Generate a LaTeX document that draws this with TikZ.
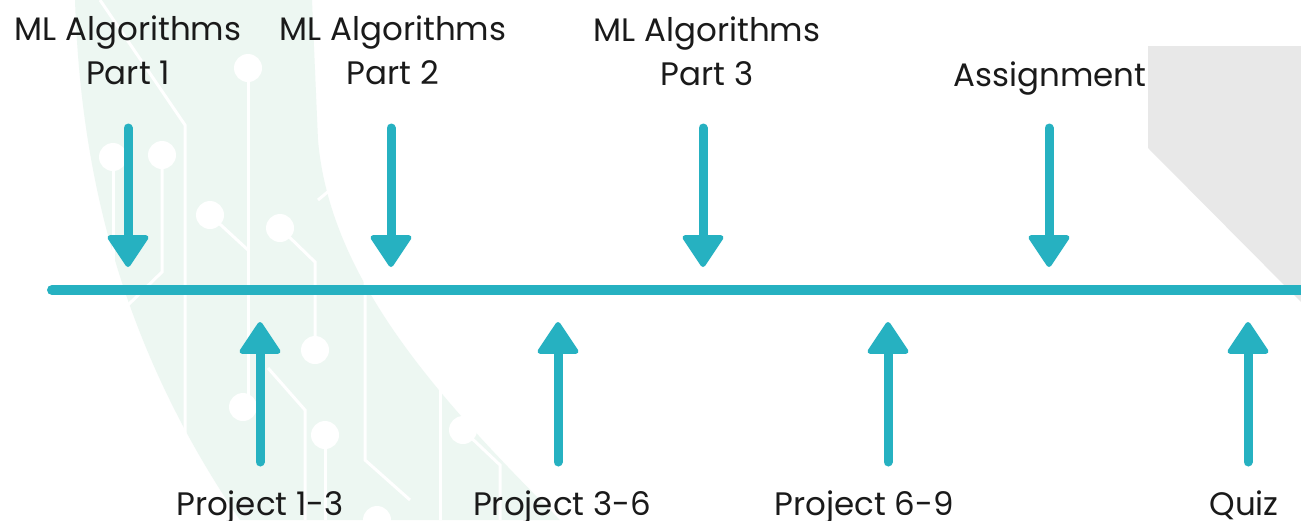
\documentclass[tikz,border=0pt]{standalone}
\usepackage{fontspec}
\setmainfont{Poppins}
\usetikzlibrary{arrows.meta}
\definecolor{teal}{RGB}{38,177,193}
\definecolor{band}{RGB}{237,247,242}
\definecolor{panelgrey}{RGB}{232,232,232}
\definecolor{ink}{RGB}{26,26,26}
\tikzset{
  lbl/.style={text=ink, font=\fontsize{32.5}{44}\selectfont, align=center, inner sep=0pt},
  tl/.style={draw=teal, line width=10pt, line cap=round},
  evarrow/.style={draw=teal, line width=9pt, line cap=round,
    -{Triangle[width=44pt, length=34pt, line width=5pt, round]}},
  trace/.style={draw=white, line width=3pt},
  pad/.style={fill=white}
}
\begin{document}
\begin{tikzpicture}[x=1pt,y=-1pt]
\useasboundingbox (0,0) rectangle (1301,520);
\fill[white] (0,0) rectangle (1301,520);

% pale circuit band in the background
\fill[band] (75,0) .. controls (80,150) and (110,330) .. (240,520)
  -- (560,520) .. controls (440,400) and (330,280) .. (318,140) -- (312,0) -- cycle;
\begin{scope}[trace]
  \draw (100,0) -- (185,125) -- (185,520);
  \draw (248,68) -- (248,400);
  \draw (113,157) -- (113,270);
  \draw (162,155) -- (162,272) -- (128,305);
  \draw (210,215) -- (248,250);
  \draw (280,228) -- (315,262) -- (315,350);
  \draw (268,368) -- (305,410) -- (305,520);
  \draw (325,435) -- (325,520);
  \draw (365,270) -- (365,460) -- (410,500);
  \draw (463,430) -- (500,465) -- (500,520);
  \draw (318,200) -- (330,190);
  \draw (440,390) -- (440,520);
\end{scope}
\foreach \p in {(248,68),(113,157),(162,155),(210,215),(280,228),(315,350),(243,407),(325,435),(463,430),(377,520)}
  \fill[pad] \p circle (14);

% grey corner panel
\fill[panelgrey] (1148,46) -- (1301,46) -- (1301,302) -- (1148,148) -- cycle;

% timeline
\coordinate (tlA) at (52,290);
\coordinate (tlB) at (1310,290);
\draw[tl] (tlA) -- (tlB);

% labels above the line (base = baseline of the last line)
\node[lbl, anchor=base] (m1) at (128,84) {ML Algorithms\\Part 1};
\node[lbl, anchor=base] (m2) at (393,84) {ML Algorithms\\Part 2};
\node[lbl, anchor=base] (m3) at (707,85) {ML Algorithms\\Part 3};
\node[lbl, anchor=base] (as) at (1050,86) {Assignment};

% labels below the line
\node[lbl, anchor=base] (p1) at (260,515) {Project 1-3};
\node[lbl, anchor=base] (p2) at (562,515) {Project 3-6};
\node[lbl, anchor=base] (p3) at (864,515) {Project 6-9};
\node[lbl, anchor=base] (qz) at (1244,515) {Quiz};

% arrow end points
\foreach \n/\x in {d1/128,d2/391,d3/703,d4/1049}{
  \coordinate (\n s) at (\x,128);
  \coordinate (\n t) at (\x,267);
}
\foreach \n/\x in {u1/260,u2/558,u3/888,u4/1248}{
  \coordinate (\n s) at (\x,462);
  \coordinate (\n t) at (\x,322);
}
\foreach \n in {d1,d2,d3,d4,u1,u2,u3,u4}
  \draw[evarrow] (\n s) -- (\n t);
\end{tikzpicture}
\end{document}
